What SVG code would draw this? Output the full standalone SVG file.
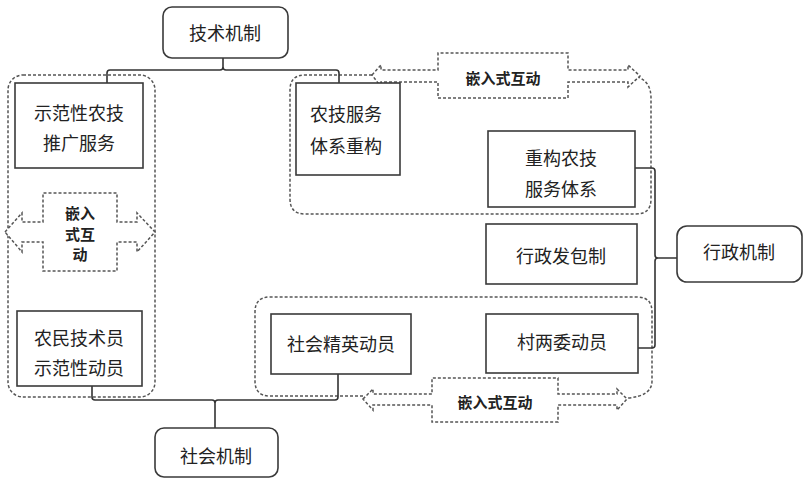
<svg xmlns="http://www.w3.org/2000/svg" width="807" height="485" viewBox="0 0 807 485">
<style>
.box{fill:#fff;stroke:#3a3a3a;stroke-width:1.6}
.dash{fill:none;stroke:#555;stroke-width:1.5;stroke-dasharray:3 2}
.arr{fill:#fff;stroke:#555;stroke-width:1.5;stroke-dasharray:3 2;stroke-linejoin:miter}
.conn{fill:none;stroke:#333;stroke-width:1.6}
.t{font-family:"Noto Sans CJK SC","Noto Sans",sans-serif;font-size:18px;fill:#222;text-anchor:middle;dominant-baseline:central}
.b{font-family:"Noto Sans CJK SC","Noto Sans",sans-serif;font-size:15px;font-weight:bold;fill:#222;text-anchor:middle;dominant-baseline:central}
</style>
<rect width="807" height="485" fill="#fff"/>
<g id="containers">
<rect class="dash" x="8" y="75" width="147" height="322" rx="15"/>
<path class="dash" d="M372,75 L305,75 Q290,75 290,90 L290,199 Q290,214 305,214 L636,214 Q651,214 651,199 L651,98 Q651,82 638,77"/>
<path class="dash" d="M363,396 L270,396 Q255,396 255,381 L255,312 Q255,297 270,297 L637,297 Q652,297 652,312 L652,381 Q652,396 628,398"/>
</g>
<g id="connectors">
<path class="conn" d="M107,83 V73 Q107,70 110,70 H220 Q223,70 223,67 V58 M223,67 Q223,70 226,70 H336 Q339,70 339,73 V83"/>
<path class="conn" d="M635,168 H652 Q655,168 655,171 V255 Q655,258 658,258 H677 M658,258 Q655,258 655,261 V345 Q655,348 652,348 H638"/>
<path class="conn" d="M92,386 V397 Q92,400 95,400 H212 Q215,400 215,403 V428 M215,403 Q215,400 218,400 H335 Q338,400 338,397 V374"/>
</g>
<g id="arrow-top">
<path class="arr" d="M372,75 L381,65 L381,70 L438,70 L438,53 L568,53 L568,70 L628,70 L628,65 L640,76 L628,87 L628,82 L568,82 L568,98 L438,98 L438,82 L381,82 L381,87 Z"/>
<text class="b" x="503" y="77">嵌入式互动</text>
</g>
<g id="arrow-bottom">
<path class="arr" d="M363,399 L373,389 L373,394 L432,394 L432,378 L558,378 L558,394 L617,394 L617,389 L627,399 L617,410 L617,405 L558,405 L558,422 L432,422 L432,405 L373,405 L373,410 Z"/>
<text class="b" x="495" y="401">嵌入式互动</text>
</g>
<g id="arrow-left">
<path class="arr" d="M5,232 L22,213 L22,222 L43,222 L43,193 L117,193 L117,222 L137,222 L137,213 L155,232 L137,252 L137,242 L117,242 L117,271 L43,271 L43,242 L22,242 L22,252 Z"/>
<text class="b" x="80" y="212">嵌入</text>
<text class="b" x="80" y="233">式互</text>
<text class="b" x="80" y="253">动</text>
</g>
<g id="n-tech">
<rect class="box" x="163" y="7" width="125" height="51" rx="9"/>
<text class="t" x="225" y="32">技术机制</text>
</g>
<g id="n-demo">
<rect class="box" x="15" y="83" width="128" height="85"/>
<text class="t" x="79" y="112">示范性农技</text>
<text class="t" x="79" y="142">推广服务</text>
</g>
<g id="n-rebuild">
<rect class="box" x="296" y="83" width="104" height="92"/>
<text class="t" x="346" y="113">农技服务</text>
<text class="t" x="346" y="145">体系重构</text>
</g>
<g id="n-rebuild2">
<rect class="box" x="488" y="131" width="147" height="76"/>
<text class="t" x="561" y="157">重构农技</text>
<text class="t" x="561" y="188">服务体系</text>
</g>
<g id="n-contract">
<rect class="box" x="486" y="224" width="151" height="60"/>
<text class="t" x="561" y="255">行政发包制</text>
</g>
<g id="n-admin">
<rect class="box" x="677" y="226" width="125" height="56" rx="10"/>
<text class="t" x="739" y="251">行政机制</text>
</g>
<g id="n-elite">
<rect class="box" x="271" y="314" width="140" height="60"/>
<text class="t" x="341" y="343">社会精英动员</text>
</g>
<g id="n-village">
<rect class="box" x="486" y="314" width="152" height="59"/>
<text class="t" x="562" y="341">村两委动员</text>
</g>
<g id="n-farmer">
<rect class="box" x="17" y="311" width="125" height="75"/>
<text class="t" x="79" y="337">农民技术员</text>
<text class="t" x="79" y="367">示范性动员</text>
</g>
<g id="n-social">
<rect class="box" x="155" y="428" width="123" height="49" rx="9"/>
<text class="t" x="216" y="455">社会机制</text>
</g>
</svg>
